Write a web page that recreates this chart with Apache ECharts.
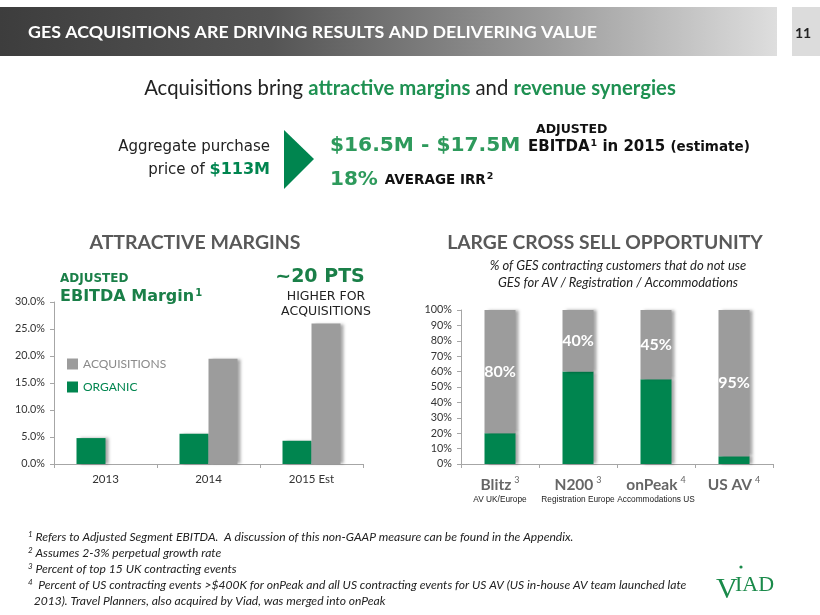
<!DOCTYPE html>
<html>
<head>
<meta charset="utf-8">
<script src="https://cdn.jsdelivr.net/npm/echarts@6/dist/echarts.min.js"></script>
<style>
  html, body { margin: 0; padding: 0; background: #fff; }
  #main { width: 820px; height: 615px; }
</style>
</head>
<body>
<div id="main"></div>
<script>
// left chart: EBITDA margin
const years = ['2013', '2014', '2015 Est'];
const organic = [4.8, 5.6, 4.3];
const acquisitions = [null, 19.5, 26.0];

// right chart: cross sell
const brands = ['Blitz', 'N200', 'onPeak', 'US AV'];
const brandNotes = ['3', '3', '4', '4'];
const brandSubs = ['AV UK/Europe', 'Registration Europe', 'Accommodations US', ''];
const useGes = [20, 60, 55, 5];
const notUseGes = [80, 40, 45, 95];

const footnotes = [
  ['1', 'Refers to Adjusted Segment EBITDA.  A discussion of this non-GAAP measure can be found in the Appendix.'],
  ['2', 'Assumes 2-3% perpetual growth rate'],
  ['3', 'Percent of top 15 UK contracting events'],
  ['4', ' Percent of US contracting events >$400K for onPeak and all US contracting events for US AV (US in-house AV team launched late'],
  ['', ' 2013). Travel Planners, also acquired by Viad, was merged into onPeak']
];

const GREEN = '#00854f';
const TEXT_GREEN = '#1f9152';
const GRAY = '#9c9c9c';
const CAL = 'Lato, "Open Sans", sans-serif';
const VER = '"DejaVu Sans", Verdana, sans-serif';
const SERIF = '"Liberation Serif", "DejaVu Serif", serif';

const chart = echarts.init(document.getElementById('main'));

const barShadow = {
  shadowBlur: 3,
  shadowOffsetX: 3,
  shadowColor: 'rgba(0,0,0,0.35)'
};

function txt(x, y, text, style) {
  return {
    type: 'text', x: x, y: y, silent: true,
    style: Object.assign({ text: text, textVerticalAlign: 'middle' }, style)
  };
}

const graphics = [
  {
    type: 'rect', silent: true,
    shape: { x: 0, y: 7, width: 777, height: 49 },
    style: {
      fill: new echarts.graphic.LinearGradient(0, 0, 1, 0, [
        { offset: 0, color: '#3d3d3d' },
        { offset: 0.35, color: '#555555' },
        { offset: 0.7, color: '#9a9a9a' },
        { offset: 1, color: '#dedede' }
      ])
    }
  },
  txt(28, 32, 'GES ACQUISITIONS ARE DRIVING RESULTS AND DELIVERING VALUE', {
    fill: '#fff', font: 'bold 17.8px ' + CAL
  }),
  { type: 'rect', silent: true, shape: { x: 792, y: 7, width: 28, height: 49 }, style: { fill: '#dcdcdc' } },
  txt(795, 33, '11', { fill: '#222', font: 'bold 14px ' + CAL }),

  // headline
  txt(410, 88, '{a|Acquisitions bring }{g|attractive margins}{a| and }{g|revenue synergies}', {
    textAlign: 'center',
    rich: {
      a: { fill: '#222', fontSize: 20.3, fontFamily: CAL },
      g: { fill: TEXT_GREEN, fontSize: 20.3, fontWeight: 'bold', fontFamily: CAL }
    }
  }),

  // purchase price block
  txt(270, 147, 'Aggregate purchase', { textAlign: 'right', fill: '#222', font: '15px ' + VER }),
  txt(270, 170, '{a|price of }{g|$113M}', {
    textAlign: 'right',
    rich: {
      a: { fill: '#222', fontSize: 15, fontFamily: VER },
      g: { fill: GREEN, fontSize: 16, fontWeight: 'bold', fontFamily: VER }
    }
  }),
  {
    type: 'polygon', silent: true,
    shape: { points: [[284, 130], [314, 159], [284, 189]] },
    style: { fill: GREEN }
  },
  txt(330, 146, '$16.5M - $17.5M', { fill: '#2e9a5c', font: 'bold 20.2px ' + VER }),
  txt(536, 130, 'ADJUSTED', { fill: '#111', font: 'bold 12.5px ' + VER }),
  txt(528, 147, '{b|EBITDA}{s|1}{b| in 2015 }{e|(estimate)}', {
    rich: {
      b: { fill: '#111', fontSize: 15, fontWeight: 'bold', fontFamily: VER },
      s: { fill: '#111', fontSize: 9.5, fontWeight: 'bold', fontFamily: VER, padding: [0, 0, 7, 1] },
      e: { fill: '#111', fontSize: 13.5, fontWeight: 'bold', fontFamily: VER }
    }
  }),
  txt(330, 180, '{g|18% }{b|AVERAGE IRR}{s|2}', {
    rich: {
      g: { fill: '#2e9a5c', fontSize: 20, fontWeight: 'bold', fontFamily: VER },
      b: { fill: '#111', fontSize: 13.5, fontWeight: 'bold', fontFamily: VER },
      s: { fill: '#111', fontSize: 9.5, fontWeight: 'bold', fontFamily: VER, padding: [0, 0, 7, 1] }
    }
  }),

  // section titles
  txt(195, 243, 'ATTRACTIVE MARGINS', { textAlign: 'center', fill: '#595959', font: 'bold 19.5px ' + CAL }),
  txt(605, 243, 'LARGE CROSS SELL OPPORTUNITY', { textAlign: 'center', fill: '#595959', font: 'bold 19.3px ' + CAL }),

  // left chart annotations
  txt(60, 279, 'ADJUSTED', { fill: '#1a7f48', font: 'bold 12px ' + VER }),
  txt(60, 297, '{b|EBITDA Margin}{s|1}', {
    rich: {
      b: { fill: '#1a7f48', fontSize: 16, fontWeight: 'bold', fontFamily: VER },
      s: { fill: '#1a7f48', fontSize: 10, fontWeight: 'bold', fontFamily: VER, padding: [0, 0, 8, 1] }
    }
  }),
  txt(320, 277, '~20 PTS', { textAlign: 'center', fill: '#1a7f48', font: 'bold 19px ' + VER }),
  txt(326, 297, 'HIGHER FOR', { textAlign: 'center', fill: '#222', font: '12.5px ' + VER }),
  txt(326, 312, 'ACQUISITIONS', { textAlign: 'center', fill: '#222', font: '12.5px ' + VER }),

  // right chart subtitle
  txt(618, 266, '% of GES contracting customers that do not use', {
    textAlign: 'center', fill: '#222', font: 'italic 13px ' + CAL
  }),
  txt(618, 283, 'GES for AV / Registration / Accommodations', {
    textAlign: 'center', fill: '#222', font: 'italic 13px ' + CAL
  }),

  // logo
  txt(716, 590, 'V', { fill: '#1a8a4a', font: '30px ' + SERIF }),
  txt(735, 585, 'IAD', { fill: '#1a8a4a', font: '22px ' + SERIF }),
  { type: 'circle', silent: true, shape: { cx: 741, cy: 567, r: 1.6 }, style: { fill: '#1a8a4a' } }
];

footnotes.forEach(function (f, i) {
  graphics.push(txt(28, 537 + i * 16, '{s|' + f[0] + '}{t| ' + f[1] + '}', {
    rich: {
      s: { fill: '#222', fontSize: 8, fontStyle: 'italic', fontFamily: CAL, padding: [0, 0, 6, 0] },
      t: { fill: '#222', fontSize: 12.1, fontStyle: 'italic', fontFamily: CAL }
    }
  }));
});

const axisLine = { lineStyle: { color: '#a6a6a6' } };
const axisLabel = { color: '#333', fontSize: 10.8, fontFamily: CAL };

chart.setOption({
  animation: false,
  backgroundColor: '#fff',
  graphic: graphics,
  legend: {
    orient: 'vertical',
    left: 62, top: 353,
    itemWidth: 11, itemHeight: 11, itemGap: 11,
    icon: 'rect',
    data: [
      { name: 'ACQUISITIONS', textStyle: { color: '#8a8a8a' } },
      { name: 'ORGANIC', textStyle: { color: GREEN } }
    ],
    textStyle: { fontSize: 12, fontFamily: CAL }
  },
  grid: [
    { left: 54, right: 457, top: 302, bottom: 151 },
    { left: 461, right: 47, top: 310, bottom: 151 }
  ],
  xAxis: [
    {
      type: 'category', gridIndex: 0, data: years,
      axisLine: axisLine,
      axisTick: { show: true, length: 4, lineStyle: { color: '#a6a6a6' } },
      axisLabel: Object.assign({ margin: 9 }, axisLabel, { fontSize: 11.5 })
    },
    {
      type: 'category', gridIndex: 1, data: brands,
      axisLine: axisLine,
      axisTick: { show: true, length: 4, lineStyle: { color: '#a6a6a6' } },
      axisLabel: {
        margin: 12, interval: 0, hideOverlap: false,
        formatter: function (v, i) {
          return '{n|' + v + '}{s|' + brandNotes[i] + '}\n{d|' + (brandSubs[i] || ' ') + '}';
        },
        rich: {
          n: { color: '#666', fontSize: 15.5, fontWeight: 'bold', fontFamily: CAL, lineHeight: 17 },
          s: { color: '#666', fontSize: 9, fontFamily: CAL, padding: [0, 0, 8, 3] },
          d: { color: '#222', fontSize: 8.3, fontFamily: '"Liberation Sans Narrow", "Liberation Sans", Arial, sans-serif', lineHeight: 13 }
        }
      }
    }
  ],
  yAxis: [
    {
      type: 'value', gridIndex: 0, min: 0, max: 30, interval: 5,
      axisLine: { show: true, lineStyle: { color: '#a6a6a6' } },
      axisTick: { show: true, length: 4, lineStyle: { color: '#a6a6a6' } },
      splitLine: { show: false },
      axisLabel: Object.assign({ margin: 9, formatter: function (v) { return v.toFixed(1) + '%'; } }, axisLabel)
    },
    {
      type: 'value', gridIndex: 1, min: 0, max: 100, interval: 10,
      axisLine: { show: true, lineStyle: { color: '#a6a6a6' } },
      axisTick: { show: true, length: 4, lineStyle: { color: '#a6a6a6' } },
      splitLine: { show: false },
      axisLabel: Object.assign({ margin: 9, formatter: '{value}%' }, axisLabel)
    }
  ],
  series: [
    {
      name: 'ORGANIC', type: 'bar', xAxisIndex: 0, yAxisIndex: 0,
      data: organic, barWidth: 29, barGap: '0%',
      itemStyle: Object.assign({ color: GREEN }, barShadow)
    },
    {
      name: 'ACQUISITIONS', type: 'bar', xAxisIndex: 0, yAxisIndex: 0,
      data: acquisitions, barWidth: 29, barGap: '0%',
      itemStyle: Object.assign({ color: GRAY }, barShadow)
    },
    {
      name: 'Use GES', type: 'bar', xAxisIndex: 1, yAxisIndex: 1, stack: 'cs',
      data: useGes, barWidth: 31,
      itemStyle: Object.assign({ color: GREEN }, barShadow)
    },
    {
      name: 'Do not use GES', type: 'bar', xAxisIndex: 1, yAxisIndex: 1, stack: 'cs',
      data: notUseGes, barWidth: 31,
      itemStyle: Object.assign({ color: GRAY }, barShadow),
      label: {
        show: true, position: 'inside', formatter: '{c}%',
        color: '#fff', fontSize: 16, fontWeight: 'bold', fontFamily: CAL
      }
    }
  ]
});
</script>
</body>
</html>
